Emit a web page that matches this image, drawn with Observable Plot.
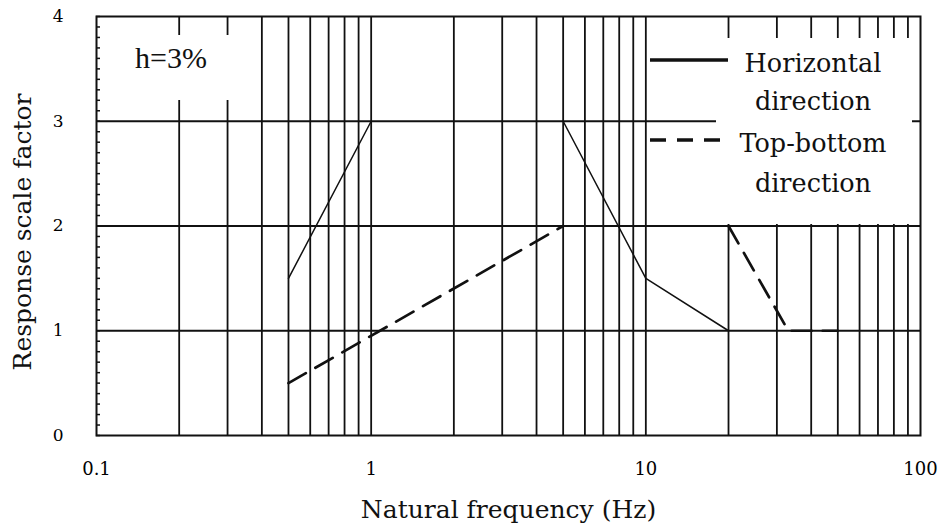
<!DOCTYPE html>
<html>
<head>
<meta charset="utf-8">
<script src="https://cdn.jsdelivr.net/npm/d3@7"></script>
<script src="https://cdn.jsdelivr.net/npm/@observablehq/plot@0.6"></script>
<style>
  html, body { margin: 0; padding: 0; background: #fff; }
  #wrap { position: relative; width: 940px; height: 527px; }
  .ov { position: absolute; }
</style>
</head>
<body>
<div id="wrap"></div>
<script>
// ---- data ----
const horizFreqA = [0.5, 1];
const horizValA  = [1.5, 3];
const horizFreqB = [5, 10, 20];
const horizValB  = [3, 1.5, 1.0];
const vertFreqA  = [0.5, 5];
const vertValA   = [0.5, 2];
const vertFreqB  = [20, 33, 50];
const vertValB   = [2, 1.0, 1.0];

const xTickValues = [0.1, 1, 10, 100];
const xTickLabels = ["0.1", "1", "10", "100"];
const yTickValues = [0, 1, 2, 3, 4];
const xGridValues = [0.2,0.3,0.4,0.5,0.6,0.7,0.8,0.9,1,2,3,4,5,6,7,8,9,10,20,30,40,50,60,70,80,90];
const yGridValues = [1, 2, 3];
const yMinorTicks = d3.range(0, 41).map(i => i / 10);

const xTitle = "Natural frequency (Hz)";
const yTitle = "Response scale factor";
const dampingLabel = "h=3%";
const seriesNames = ["Horizontal direction", "Top-bottom direction"];

const toRows = (fs, vs, seg) => fs.map((f, i) => ({f, v: vs[i], seg}));
const horizRows = [...toRows(horizFreqA, horizValA, "a"), ...toRows(horizFreqB, horizValB, "b")];
const vertRows  = [...toRows(vertFreqA, vertValA, "a"), ...toRows(vertFreqB, vertValB, "b")];

const FONT = "DejaVu Serif";

const chart = Plot.plot({
  width: 940,
  height: 527,
  marginLeft: 96,
  marginRight: 20,
  marginTop: 16,
  marginBottom: 92,
  x: {type: "log", domain: [0.1, 100]},
  y: {domain: [0, 4]},
  style: {fontFamily: FONT, fontSize: "18px", background: "white", color: "black"},
  marks: [
    Plot.gridX(xGridValues, {stroke: "#111", strokeOpacity: 1, strokeWidth: 1.8}),
    Plot.gridY(yGridValues, {stroke: "#111", strokeOpacity: 1, strokeWidth: 1.8}),
    Plot.axisY(yMinorTicks, {anchor: "left", tickSize: 4, dx: 4, tickFormat: () => "", label: null, stroke: "#111", strokeWidth: 1.5}),
    Plot.axisX(xTickValues, {anchor: "bottom", tickSize: 0, tickPadding: 27, tickFormat: (d) => xTickLabels[xTickValues.indexOf(d)], label: null, fontSize: 18}),
    Plot.axisY(yTickValues, {anchor: "left", tickSize: 0, tickPadding: 33, tickFormat: (d) => String(d), label: null, fontSize: 17}),
    Plot.frame({stroke: "#111", strokeWidth: 2}),
    Plot.line(horizRows, {x: "f", y: "v", z: "seg", stroke: "#111", strokeWidth: 1.5}),
    Plot.line(vertRows, {x: "f", y: "v", z: "seg", stroke: "#111", strokeWidth: 2.7, strokeDasharray: "20,11"}),
    Plot.text([xTitle], {frameAnchor: "bottom", lineAnchor: "top", dy: 65, fontSize: 25, fill: "#111"}),
    Plot.text([yTitle], {frameAnchor: "left", textAnchor: "middle", lineAnchor: "middle", rotate: -90, dx: -74, dy: 6, fontSize: 25, fill: "#111"})
  ]
});

const wrap = document.getElementById("wrap");
wrap.appendChild(chart);

// overlay annotations (legend and damping label)
const ns = "http://www.w3.org/2000/svg";
function svgEl(tag, attrs, parent) {
  const e = document.createElementNS(ns, tag);
  for (const k in attrs) e.setAttribute(k, attrs[k]);
  if (parent) parent.appendChild(e);
  return e;
}

// damping label box
const hbox = svgEl("svg", {width: 155, height: 65});
hbox.setAttribute("class", "ov");
hbox.style.left = "100px";
hbox.style.top = "35px";
svgEl("rect", {x: 0, y: 0, width: 155, height: 65, fill: "white"}, hbox);
const ht = svgEl("text", {x: 71, y: 33, "text-anchor": "middle", "font-family": "Liberation Serif", "font-size": 30, fill: "#111"}, hbox);
ht.textContent = dampingLabel;
wrap.appendChild(hbox);

// legend
const leg = svgEl("svg", {width: 264, height: 186});
leg.setAttribute("class", "ov");
leg.style.left = "648px";
leg.style.top = "38px";
svgEl("rect", {x: 68, y: 0, width: 196, height: 186, fill: "white"}, leg);
svgEl("line", {x1: 2, x2: 80, y1: 22, y2: 22, stroke: "#111", "stroke-width": 3.5}, leg);
svgEl("line", {x1: 2, x2: 74, y1: 102, y2: 102, stroke: "#111", "stroke-width": 3.5, "stroke-dasharray": "16,11"}, leg);
const lines = [
  [seriesNames[0].split(" ")[0], 34],
  [seriesNames[0].split(" ")[1], 72],
  [seriesNames[1].split(" ")[0], 114],
  [seriesNames[1].split(" ")[1], 154]
];
for (const [txt, y] of lines) {
  const t = svgEl("text", {x: 165, y, "text-anchor": "middle", "font-family": FONT, "font-size": 25.5, fill: "#111"}, leg);
  t.textContent = txt;
}
wrap.appendChild(leg);
</script>
</body>
</html>
